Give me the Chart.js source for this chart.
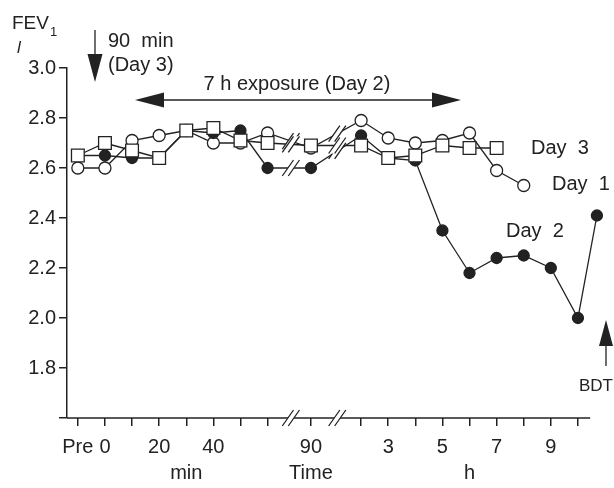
<!DOCTYPE html>
<html>
<head>
<meta charset="utf-8">
<script src="https://cdn.jsdelivr.net/npm/chart.js@4/dist/chart.umd.min.js"></script>
<style>
  html, body { margin: 0; padding: 0; background: #fff; }
</style>
</head>
<body>
<canvas id="myChart" width="614" height="488"></canvas>
<script>
// position of each measurement on the broken time axis
// (Pre, 0..60 min, 90 min, then 2..10 h, then after bronchodilator)
var timePos = [0, 1, 2, 3, 4, 5, 6, 7, 8.6, 10.45, 11.45, 12.45, 13.45, 14.45, 15.45, 16.45, 17.45, 18.45, 19.15];

// FEV1 (l)
var day1 = [2.60, 2.60, 2.71, 2.73, 2.75, 2.70, 2.70, 2.74, 2.68, 2.79, 2.72, 2.70, 2.71, 2.74, 2.59, 2.53, null, null, null];
var day2 = [2.65, 2.65, 2.64, 2.64, 2.75, 2.74, 2.75, 2.60, 2.60, 2.73, 2.64, 2.63, 2.35, 2.18, 2.24, 2.25, 2.20, 2.00, 2.41];
var day3 = [2.65, 2.70, 2.67, 2.64, 2.75, 2.76, 2.71, 2.70, 2.69, 2.69, 2.64, 2.65, 2.69, 2.68, 2.68, null, null, null, null];

// x axis ticks and their labels
var tickPos = [0, 1, 2, 3, 4, 5, 6, 7, 8.6, 10.45, 11.45, 12.45, 13.45, 14.45, 15.45, 16.45, 17.45, 18.45];
var tickText = ["Pre", "0", "", "20", ["", "min"], "40", "", "", ["90", "Time"], "", "3", "", "5", ["", "h"], "7", "", "9", ""];

// where the axis is broken
var breakPos = [7.86, 9.57];

var FONT = '"Liberation Sans", Arial, Helvetica, sans-serif';
var INK = "#222";

function pts(arr) {
  return timePos.map(function (x, i) { return { x: x, y: arr[i] }; });
}

function slashPair(ctx, cx, cy, h) {
  var gap = 6, dx = h * 0.7;
  ctx.save();
  ctx.fillStyle = "#fff";
  ctx.beginPath();
  ctx.moveTo(cx - gap / 2 - dx / 2, cy + h / 2);
  ctx.lineTo(cx - gap / 2 + dx / 2, cy - h / 2);
  ctx.lineTo(cx + gap / 2 + dx / 2, cy - h / 2);
  ctx.lineTo(cx + gap / 2 - dx / 2, cy + h / 2);
  ctx.closePath();
  ctx.fill();
  ctx.strokeStyle = INK;
  ctx.lineWidth = 1.3;
  ctx.beginPath();
  ctx.moveTo(cx - gap / 2 - dx / 2, cy + h / 2);
  ctx.lineTo(cx - gap / 2 + dx / 2, cy - h / 2);
  ctx.moveTo(cx + gap / 2 - dx / 2, cy + h / 2);
  ctx.lineTo(cx + gap / 2 + dx / 2, cy - h / 2);
  ctx.stroke();
  ctx.restore();
}

function valueAt(arr, p) {
  for (var i = 0; i < timePos.length - 1; i++) {
    if (timePos[i] <= p && timePos[i + 1] >= p && arr[i] != null && arr[i + 1] != null) {
      var t = (p - timePos[i]) / (timePos[i + 1] - timePos[i]);
      return arr[i] + t * (arr[i + 1] - arr[i]);
    }
  }
  return null;
}

function arrowHead(ctx, tipX, tipY, baseX, baseY, halfW) {
  var ang = Math.atan2(tipY - baseY, tipX - baseX);
  var nx = -Math.sin(ang), ny = Math.cos(ang);
  ctx.beginPath();
  ctx.moveTo(tipX, tipY);
  ctx.lineTo(baseX + nx * halfW, baseY + ny * halfW);
  ctx.lineTo(baseX - nx * halfW, baseY - ny * halfW);
  ctx.closePath();
  ctx.fill();
}

var extras = {
  id: "extras",
  afterDatasetsDraw: function (chart) {
    var ctx = chart.ctx, xs = chart.scales.x, ys = chart.scales.y;
    var area = chart.chartArea;

    // x axis line, stops a little after the last tick
    ctx.save();
    ctx.strokeStyle = INK;
    ctx.lineWidth = 1.5;
    ctx.beginPath();
    ctx.moveTo(area.left, area.bottom);
    ctx.lineTo(xs.getPixelForValue(18.9), area.bottom);
    ctx.stroke();
    ctx.restore();

    // axis breaks, on the axis and across the lines
    breakPos.forEach(function (b) {
      var px = xs.getPixelForValue(b);
      slashPair(ctx, px, area.bottom, 16);
      [day1, day2, day3].forEach(function (arr) {
        var v = valueAt(arr, b);
        if (v != null) slashPair(ctx, px, ys.getPixelForValue(v), 16);
      });
    });
  },
  afterDraw: function (chart) {
    var ctx = chart.ctx, xs = chart.scales.x, ys = chart.scales.y;
    ctx.save();
    ctx.fillStyle = INK;
    ctx.strokeStyle = INK;
    ctx.textBaseline = "middle";
    ctx.textAlign = "left";

    // y axis title
    ctx.font = "19px " + FONT;
    ctx.fillText("FEV", 12, 24);
    ctx.font = "13px " + FONT;
    ctx.fillText("1", 50, 32);
    ctx.font = "italic 17px " + FONT;
    ctx.fillText("l", 17, 48);

    // 90 min (Day 3) arrow
    ctx.lineWidth = 1.3;
    ctx.beginPath();
    ctx.moveTo(95, 30);
    ctx.lineTo(95, 60);
    ctx.stroke();
    arrowHead(ctx, 95, 82, 95, 54, 7.5);
    ctx.font = "20px " + FONT;
    ctx.fillText("90  min", 108, 41);
    ctx.fillText("(Day 3)", 108, 65);

    // exposure arrow
    ctx.beginPath();
    ctx.moveTo(158, 100);
    ctx.lineTo(438, 100);
    ctx.stroke();
    arrowHead(ctx, 135, 100, 164, 100, 7.5);
    arrowHead(ctx, 461, 100, 432, 100, 7.5);
    ctx.textAlign = "center";
    ctx.fillText("7 h exposure (Day 2)", 297, 84);

    // series labels
    ctx.textAlign = "left";
    ctx.fillText("Day  3", 531, 148);
    ctx.fillText("Day  1", 552, 184);
    ctx.fillText("Day  2", 506, 231);

    // bronchodilator arrow
    ctx.beginPath();
    ctx.moveTo(606, 340);
    ctx.lineTo(606, 366);
    ctx.stroke();
    arrowHead(ctx, 606, 320, 606, 346, 7);
    ctx.font = "17px " + FONT;
    ctx.textAlign = "right";
    ctx.fillText("BDT", 613, 386);
    ctx.restore();
  }
};

var ctx = document.getElementById("myChart").getContext("2d");
var chart = new Chart(ctx, {
  type: "line",
  data: {
    datasets: [
      {
        label: "Day 3",
        data: pts(day3),
        borderColor: INK,
        borderWidth: 1.3,
        pointStyle: "rect",
        pointRadius: 9,
        pointBackgroundColor: "#fff",
        pointBorderColor: INK,
        pointBorderWidth: 1.3,
        clip: false
      },
      {
        label: "Day 2",
        data: pts(day2),
        borderColor: INK,
        borderWidth: 1.3,
        pointStyle: "circle",
        pointRadius: 5.5,
        pointBackgroundColor: INK,
        pointBorderColor: INK,
        pointBorderWidth: 1.3,
        clip: false
      },
      {
        label: "Day 1",
        data: pts(day1),
        borderColor: INK,
        borderWidth: 1.3,
        pointStyle: "circle",
        pointRadius: 6,
        pointBackgroundColor: "#fff",
        pointBorderColor: INK,
        pointBorderWidth: 1.3,
        clip: false
      }
    ]
  },
  options: {
    responsive: false,
    animation: false,
    devicePixelRatio: 1,
    layout: { padding: { top: 68, right: 1, left: 0, bottom: 0 } },
    plugins: {
      legend: { display: false },
      tooltip: { enabled: false }
    },
    scales: {
      x: {
        type: "linear",
        min: -0.4,
        max: 19.4,
        afterBuildTicks: function (s) {
          s.ticks = tickPos.map(function (v) { return { value: v }; });
        },
        afterFit: function (s) { s.height = 70; },
        border: { display: false },
        grid: { drawOnChartArea: false, tickLength: 8, color: INK, lineWidth: 1.5 },
        ticks: {
          autoSkip: false,
          maxRotation: 0,
          padding: 8,
          color: INK,
          font: { family: FONT, size: 20, lineHeight: 1.3 },
          callback: function (v, i) { return tickText[i]; }
        }
      },
      y: {
        min: 1.6,
        max: 3.0,
        afterBuildTicks: function (s) {
          var t = [];
          for (var k = 16; k <= 30; k++) t.push({ value: k / 10 });
          s.ticks = t;
        },
        afterFit: function (s) { s.width = 67; },
        border: { display: true, color: INK, width: 1.5 },
        grid: { drawOnChartArea: false, tickLength: 8, color: INK, lineWidth: 1.5 },
        ticks: {
          padding: 3,
          color: INK,
          font: { family: FONT, size: 20 },
          callback: function (v) {
            var k = Math.round(v * 10);
            return (k >= 18 && k % 2 === 0) ? (k / 10).toFixed(1) : "";
          }
        }
      }
    }
  },
  plugins: [extras]
});
</script>
</body>
</html>
